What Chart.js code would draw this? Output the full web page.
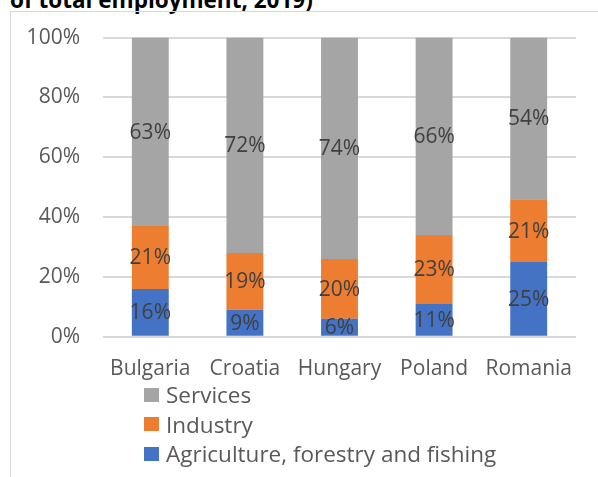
<!DOCTYPE html>
<html>
<head>
<meta charset="utf-8">
<script src="https://cdn.jsdelivr.net/npm/chart.js@4/dist/chart.umd.min.js"></script>
<style>
    body { margin: 0; background: #fff; font-family: "Open Sans", sans-serif; overflow: hidden; }
    #title { position: absolute; left: 10px; top: -11px; font-size: 22.5px; font-weight: bold; line-height: 22px; color: #000; white-space: nowrap; }
    #box { position: absolute; left: 10px; top: 11px; width: 620px; height: 500px; border-left: 1px solid #d9d9d9; border-top: 1px solid #d9d9d9; }
    #wrap { position: absolute; left: 11px; top: 2px; width: 587px; height: 392px; }
    #legend { position: absolute; left: 144px; top: 380px; }
    .item { height: 29.5px; display: flex; align-items: center; font-size: 22.5px; color: #595959; }
    .swatch { width: 15px; height: 14px; margin-right: 7px; }
</style>
</head>
<body>
<div id="title">of total employment, 2019)</div>
<div id="box"></div>
<div id="wrap"><canvas id="chart"></canvas></div>
<div id="legend"></div>
<script>
// Share of employment by sector, per country (%)
const countries = ['Bulgaria', 'Croatia', 'Hungary', 'Poland', 'Romania'];
const agriculture = [16, 9, 6, 11, 25];
const industry = [21, 19, 20, 23, 21];
const services = [63, 72, 74, 66, 54];
const yTicks = [0, 20, 40, 60, 80, 100];

const seriesNames = ['Agriculture, forestry and fishing', 'Industry', 'Services'];
const seriesColors = ['#4472C4', '#ED7D31', '#A5A5A5'];

// Draw value labels centered in each bar segment
const segmentLabels = {
    id: 'segmentLabels',
    afterDatasetsDraw(chart) {
        const ctx = chart.ctx;
        ctx.save();
        ctx.font = '21px "Open Sans"';
        ctx.fillStyle = '#404040';
        ctx.textAlign = 'center';
        ctx.textBaseline = 'middle';
        chart.data.datasets.forEach((ds, i) => {
            chart.getDatasetMeta(i).data.forEach((bar, j) => {
                const { x, y, base } = bar.getProps(['x', 'y', 'base'], true);
                ctx.fillText(ds.data[j] + '%', x, (y + base) / 2 + 1);
            });
        });
        ctx.restore();
    }
};

const datasets = [agriculture, industry, services].map((values, i) => ({
    label: seriesNames[i],
    data: values,
    backgroundColor: seriesColors[i],
    borderWidth: 0,
    categoryPercentage: 1,
    barPercentage: 0.39
}));

const chart = new Chart(document.getElementById('chart'), {
    type: 'bar',
    data: { labels: countries, datasets: datasets },
    options: {
        responsive: true,
        maintainAspectRatio: false,
        animation: false,
        layout: { padding: { top: 14, right: 22, bottom: 0, left: 0 } },
        plugins: {
            legend: { display: false },
            tooltip: { enabled: false }
        },
        scales: {
            x: {
                stacked: true,
                grid: { display: false },
                border: { display: false },
                ticks: {
                    color: '#595959',
                    font: { family: 'Open Sans', size: 21 },
                    padding: 12,
                    maxRotation: 0
                }
            },
            y: {
                stacked: true,
                min: 0,
                max: 100,
                afterFit(scale) { scale.width = 92; },
                afterBuildTicks(scale) { scale.ticks = yTicks.map(v => ({ value: v })); },
                grid: { color: '#d9d9d9', lineWidth: 2, drawTicks: false },
                border: { display: false },
                ticks: {
                    color: '#595959',
                    font: { family: 'Open Sans', size: 21 },
                    padding: 23,
                    callback: v => v + '%'
                }
            }
        }
    },
    plugins: [segmentLabels]
});

// Legend, listed top-down in reverse stacking order
const legend = document.getElementById('legend');
chart.data.datasets.slice().reverse().forEach(ds => {
    const item = document.createElement('div');
    item.className = 'item';
    item.innerHTML = `<span class="swatch" style="background:${ds.backgroundColor}"></span>${ds.label}`;
    legend.appendChild(item);
});
</script>
</body>
</html>
